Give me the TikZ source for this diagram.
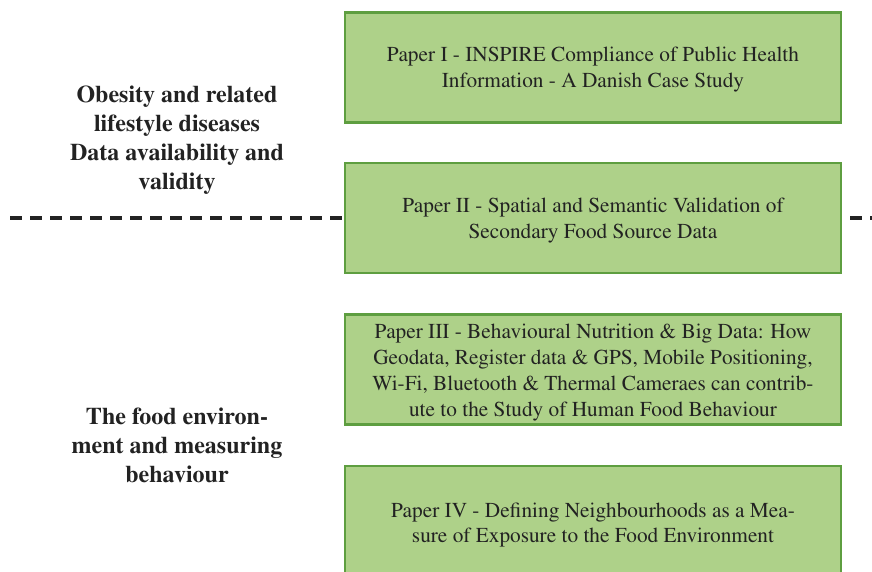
\documentclass[tikz,border=0pt]{standalone}
\usepackage[T1]{fontenc}
\usepackage{times}
\begin{document}
\begin{tikzpicture}[x=1pt,y=-1pt,
  paper/.style={draw=boxedge, fill=boxfill, line width=2.6pt, minimum width=496pt,
    minimum height=110pt, inner sep=0pt},
  papertext/.style={align=center, inner sep=0pt, text=inkgray,
    font=\fontsize{21.3}{25.8}\selectfont},
  theme/.style={align=center, text=inkgray, font=\fontsize{24}{29}\selectfont\bfseries},
  divider/.style={draw=inkgray, line width=3.5pt, dash pattern=on 12pt off 8pt}]
\definecolor{boxfill}{HTML}{AED189}
\definecolor{boxedge}{HTML}{5E9E40}
\definecolor{inkgray}{HTML}{222222}
\useasboundingbox (0,0) rectangle (872,571);
\clip (0,0) rectangle (872,571);

% dashed divider between the two themes
\coordinate (dl) at (10,218);
\coordinate (dr) at (872,218);
\draw[divider] (dl) -- (dr);

% paper boxes
\node[paper] (p1) at (593,67.5) {};
\node[paper] (p2) at (593,218) {};
\node[paper] (p3) at (593,369.5) {};
\node[paper] (p4) at (593,521) {};

% paper titles, set slightly below each box centre
\node[papertext] (p1t) at ([yshift=-2pt]p1.center) {Paper I - INSPIRE Compliance of Public Health\\Information - A Danish Case Study};
\node[papertext] (p2t) at ([yshift=-2.5pt]p2.center) {Paper II - Spatial and Semantic Validation of\\Secondary Food Source Data};
\node[papertext] (p3t) at ([yshift=-3pt]p3.center) {Paper III - Behavioural Nutrition \& Big Data: How\\Geodata, Register data \& GPS, Mobile Positioning,\\Wi-Fi, Bluetooth \& Thermal Cameraes can contrib-\\ute to the Study of Human Food Behaviour};
\node[papertext] (p4t) at ([yshift=-4pt]p4.center) {Paper IV - Defining Neighbourhoods as a Mea-\\sure of Exposure to the Food Environment};

% theme labels
\node[theme] (t1) at (177,140.5) {Obesity and related\\lifestyle diseases\\Data availability and\\validity};
\node[theme] (t2) at (177,445) {The food environ-\\ment and measuring\\behaviour};
\end{tikzpicture}
\end{document}
